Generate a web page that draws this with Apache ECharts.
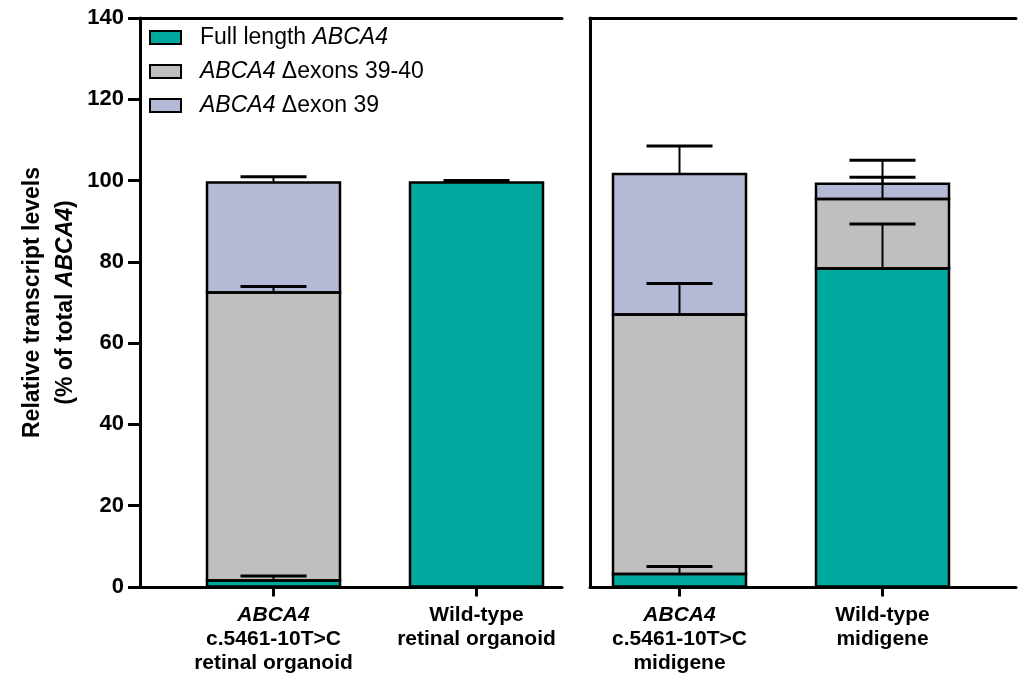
<!DOCTYPE html>
<html>
<head>
<meta charset="utf-8">
<script src="https://cdn.jsdelivr.net/npm/echarts@6/dist/echarts.min.js"></script>
<style>
  html, body { margin: 0; padding: 0; background: #fff; }
  #grafico { width: 1025px; height: 674px; }
</style>
</head>
<body>
<div id="grafico"></div>
<script>
// categorias (izquierda: organoide, derecha: minigen)
const leftCats = ['ABCA4\nc.5461-10T>C\nretinal organoid', 'Wild-type\nretinal organoid']
const rightCats = ['ABCA4\nc.5461-10T>C\nmidigene', 'Wild-type\nmidigene']

// medias (% del total) y desviaciones, en el orden de las 4 barras
const fullLength = [1.5, 99.5, 3.1, 78.3]
const fullLengthSD = [1.1, 0.5, 1.8, 11.0]
const dExons3940 = [70.9, 0, 63.9, 17.1]
const dExons3940SD = [1.5, 0, 7.6, 5.4]
const dExon39 = [27.1, 0, 34.6, 3.8]
const dExon39SD = [1.4, 0, 6.9, 5.8]

const yTicks = [0, 20, 40, 60, 80, 100, 120, 140]

const seriesNames = ['Full length ABCA4', 'ABCA4 \u0394exons 39-40', 'ABCA4 \u0394exon 39']
const colors = ['#00A99D', '#BFBFBF', '#B4B9D5']
const font = 'Liberation Sans, Arial, sans-serif'
const BAR_W = 133

const chart = echarts.init(document.getElementById('grafico'))

const segs = [[fullLength, fullLengthSD], [dExons3940, dExons3940SD], [dExon39, dExon39SD]]

// barras de error (solo hacia arriba)
function errorData(from, to) {
  const out = []
  for (let i = from; i < to; i++) {
    let top = 0
    segs.forEach(([vals, sds]) => {
      top += vals[i]
      if (sds[i] > 0) out.push([i - from, top, top + sds[i]])
    })
  }
  return out
}

// contornos de cada segmento apilado
function outlineData(from, to) {
  const out = []
  for (let i = from; i < to; i++) {
    let bottom = 0
    segs.forEach(([vals]) => {
      if (vals[i] > 0) out.push([i - from, bottom, bottom + vals[i]])
      bottom += vals[i]
    })
  }
  return out
}

function renderError(params, api) {
  const base = api.coord([api.value(0), api.value(1)])
  const tip = api.coord([api.value(0), api.value(2)])
  const half = 33
  return {
    type: 'group',
    children: [
      { type: 'line', shape: { x1: base[0], y1: base[1], x2: tip[0], y2: tip[1] }, style: { stroke: '#000', lineWidth: 2 } },
      { type: 'line', shape: { x1: tip[0] - half, y1: tip[1], x2: tip[0] + half, y2: tip[1] }, style: { stroke: '#000', lineWidth: 3 } }
    ]
  }
}

function renderOutline(params, api) {
  const lo = api.coord([api.value(0), api.value(1)])
  const hi = api.coord([api.value(0), api.value(2)])
  return {
    type: 'rect',
    shape: { x: lo[0] - BAR_W / 2, y: hi[1], width: BAR_W, height: lo[1] - hi[1] },
    style: { fill: 'none', stroke: '#000', lineWidth: 2.5 }
  }
}

function catLabel(value) {
  const lines = value.split('\n')
  return lines.map(l => (l === 'ABCA4' ? '{i|' + l + '}' : '{b|' + l + '}')).join('\n')
}

const labelRich = {
  b: { fontFamily: font, fontWeight: 'bold', fontSize: 21, lineHeight: 24, color: '#000' },
  i: { fontFamily: font, fontWeight: 'bold', fontStyle: 'italic', fontSize: 21, lineHeight: 24, color: '#000' }
}

function catAxis(gridIndex, data) {
  return {
    gridIndex: gridIndex,
    type: 'category',
    data: data,
    axisLine: { show: false },
    axisTick: { show: true, alignWithLabel: true, length: 10, lineStyle: { color: '#000', width: 3 } },
    axisLabel: { interval: 0, margin: 17, formatter: catLabel, rich: labelRich },
    splitLine: { show: false }
  }
}

function frameAxis(gridIndex, position) {
  return {
    gridIndex: gridIndex,
    type: 'value',
    position: position,
    min: 0,
    max: 1,
    axisLine: { show: true, onZero: false, lineStyle: { color: '#000', width: 3 } },
    axisTick: { show: false },
    axisLabel: { show: false },
    splitLine: { show: false }
  }
}

function hiddenY(gridIndex) {
  return { gridIndex: gridIndex, type: 'value', min: 0, max: 140, show: false }
}

function barSeries(xi, from, to) {
  const vals = [fullLength, dExons3940, dExon39]
  return vals.map((v, k) => ({
    name: seriesNames[k],
    type: 'bar',
    stack: 'total' + xi,
    xAxisIndex: xi,
    yAxisIndex: xi,
    barWidth: BAR_W,
    data: v.slice(from, to),
    itemStyle: { color: colors[k], borderWidth: 0 },
    emphasis: { disabled: true }
  }))
}

const legendNames = {
  'Full length ABCA4': '{n|Full length }{i|ABCA4}',
  'ABCA4 \u0394exons 39-40': '{i|ABCA4}{n| \u0394exons 39-40}',
  'ABCA4 \u0394exon 39': '{i|ABCA4}{n| \u0394exon 39}'
}

const option = {
  animation: false,
  backgroundColor: '#fff',
  legend: {
    data: seriesNames,
    orient: 'vertical',
    left: 149,
    top: 26,
    padding: 0,
    itemGap: 11,
    icon: 'rect',
    itemWidth: 31,
    itemHeight: 13,
    itemStyle: { borderColor: '#000', borderWidth: 2 },
    formatter: name => legendNames[name],
    textStyle: {
      padding: [0, 0, 0, 14],
      rich: {
        n: { fontFamily: font, fontSize: 23, lineHeight: 23, color: '#000' },
        i: { fontFamily: font, fontSize: 23, lineHeight: 23, fontStyle: 'italic', color: '#000' }
      }
    }
  },
  grid: [
    { left: 172, top: 18, width: 406, height: 569 },
    { left: 578, top: 18, width: 406, height: 569 },
    { left: 140, top: 18, width: 422, height: 569 },
    { left: 590, top: 18, width: 426, height: 569 }
  ],
  xAxis: [
    catAxis(0, leftCats),
    catAxis(1, rightCats),
    frameAxis(2, 'bottom'),
    frameAxis(2, 'top'),
    frameAxis(3, 'bottom'),
    frameAxis(3, 'top')
  ],
  yAxis: [
    hiddenY(0),
    hiddenY(1),
    {
      gridIndex: 2,
      type: 'value',
      min: yTicks[0],
      max: yTicks[yTicks.length - 1],
      interval: 20,
      name: '{b|Relative transcript levels}\n{b|(% of total }{i|ABCA4}{b|)}',
      nameLocation: 'middle',
      nameGap: 58,
      nameTextStyle: {
        rich: {
          b: { fontFamily: font, fontWeight: 'bold', fontSize: 23, lineHeight: 33, color: '#000' },
          i: { fontFamily: font, fontWeight: 'bold', fontStyle: 'italic', fontSize: 23, lineHeight: 33, color: '#000' }
        }
      },
      axisLine: { show: true, lineStyle: { color: '#000', width: 3 } },
      axisTick: { show: true, length: 12, lineStyle: { color: '#000', width: 3 } },
      axisLabel: { margin: 16, fontFamily: font, fontWeight: 'bold', fontSize: 22, color: '#000' },
      splitLine: { show: false }
    },
    {
      gridIndex: 3,
      type: 'value',
      position: 'right',
      min: 0,
      max: 140,
      axisLine: { show: true, lineStyle: { color: '#000', width: 3 } },
      axisTick: { show: false },
      axisLabel: { show: false },
      splitLine: { show: false }
    }
  ],
  series: [
    ...barSeries(0, 0, 2),
    ...barSeries(1, 2, 4),
    { type: 'custom', xAxisIndex: 0, yAxisIndex: 0, z: 5, renderItem: renderOutline, data: outlineData(0, 2) },
    { type: 'custom', xAxisIndex: 1, yAxisIndex: 1, z: 5, renderItem: renderOutline, data: outlineData(2, 4) },
    { type: 'custom', xAxisIndex: 0, yAxisIndex: 0, z: 10, renderItem: renderError, data: errorData(0, 2) },
    { type: 'custom', xAxisIndex: 1, yAxisIndex: 1, z: 10, renderItem: renderError, data: errorData(2, 4) }
  ]
}

chart.setOption(option)
</script>
</body>
</html>
